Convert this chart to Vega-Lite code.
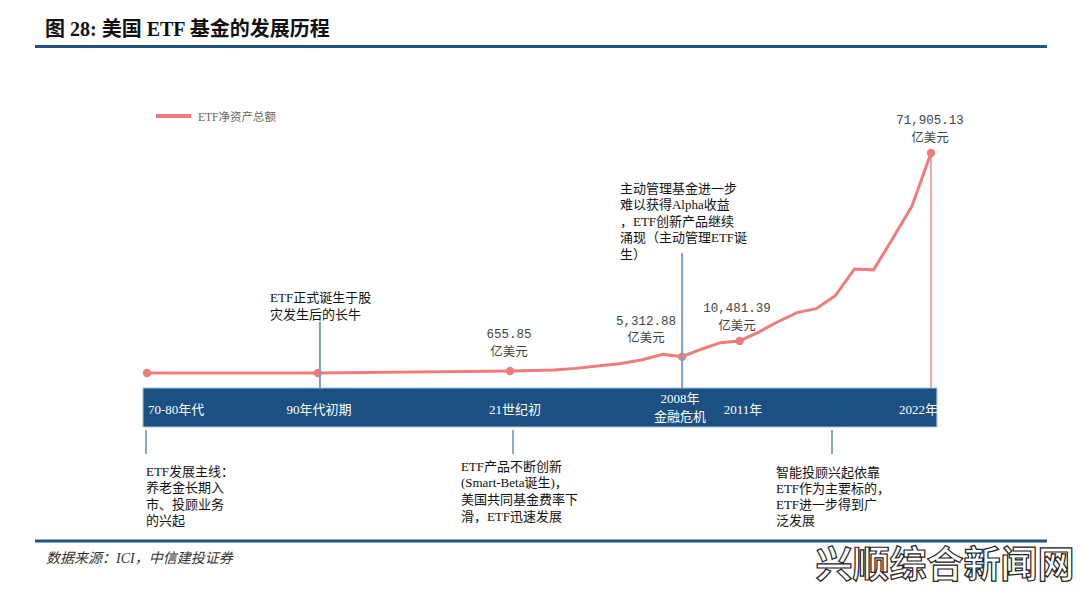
{
  "$schema": "https://vega.github.io/schema/vega-lite/v6.json",
  "width": 1080,
  "height": 596,
  "padding": 0,
  "autosize": {"type": "none"},
  "background": "white",
  "config": {"view": {"stroke": null}, "axis": {"disable": true}},
  "datasets": {
    "aum": [
      {"year": 1975, "value": 0, "key": true},
      {"year": 1993, "value": 0, "key": true},
      {"year": 2000, "value": 655.85, "key": true},
      {"year": 2001, "value": 830, "key": false},
      {"year": 2002, "value": 1020, "key": false},
      {"year": 2003, "value": 1510, "key": false},
      {"year": 2004, "value": 2280, "key": false},
      {"year": 2005, "value": 3010, "key": false},
      {"year": 2006, "value": 4230, "key": false},
      {"year": 2007, "value": 6080, "key": false},
      {"year": 2008, "value": 5312.88, "key": true},
      {"year": 2009, "value": 7770, "key": false},
      {"year": 2010, "value": 9920, "key": false},
      {"year": 2011, "value": 10481.39, "key": true},
      {"year": 2012, "value": 13370, "key": false},
      {"year": 2013, "value": 16750, "key": false},
      {"year": 2014, "value": 19750, "key": false},
      {"year": 2015, "value": 21010, "key": false},
      {"year": 2016, "value": 25240, "key": false},
      {"year": 2017, "value": 34010, "key": false},
      {"year": 2018, "value": 33710, "key": false},
      {"year": 2019, "value": 43960, "key": false},
      {"year": 2020, "value": 54490, "key": false},
      {"year": 2021, "value": 71905.13, "key": true}
    ]
  },
  "layer": [
    {
      "data": {"values": [{"t": "图 28: 美国 ETF 基金的发展历程"}]},
      "mark": {"type": "text", "align": "left", "baseline": "middle", "fontSize": 20, "fontWeight": "bold", "font": "Liberation Serif, Noto Sans CJK SC", "color": "#111111"},
      "encoding": {
        "x": {"datum": 1964.26, "type": "quantitative", "scale": {"domain": [1975, 1993, 2000, 2007, 2021], "range": [147, 318, 510, 663, 931], "nice": false, "zero": false}, "axis": null},
        "y": {"datum": 112092, "type": "quantitative", "scale": {"domain": [-72876.4, 121896.4], "nice": false, "zero": false}, "axis": null},
        "text": {"field": "t"}
      }
    },
    {
      "data": {"values": [{}]},
      "mark": {"type": "rule", "color": "#1f5380", "strokeWidth": 3},
      "encoding": {
        "x": {"datum": 1963.21, "type": "quantitative"},
        "x2": {"datum": 2027.06},
        "y": {"datum": 106700, "type": "quantitative"}
      }
    },
    {
      "data": {"values": [{}]},
      "mark": {"type": "rule", "color": "#ef7b7b", "strokeWidth": 4},
      "encoding": {
        "x": {"datum": 1975.95, "type": "quantitative"},
        "x2": {"datum": 1979.63},
        "y": {"datum": 83988, "type": "quantitative"}
      }
    },
    {
      "data": {"values": [{"t": "ETF净资产总额"}]},
      "mark": {"type": "text", "align": "left", "baseline": "middle", "fontSize": 11.5, "font": "Liberation Serif, Noto Sans CJK SC", "color": "#666666"},
      "encoding": {
        "x": {"datum": 1980.37, "type": "quantitative"},
        "y": {"datum": 83334, "type": "quantitative"},
        "text": {"field": "t"}
      }
    },
    {
      "data": {"values": [{}]},
      "mark": {"type": "rect", "color": "#1a5082", "stroke": "#a9c3db", "strokeWidth": 1},
      "encoding": {
        "x": {"datum": 1974.58, "type": "quantitative"},
        "x2": {"datum": 2021.31},
        "y": {"datum": -4902, "type": "quantitative"},
        "y2": {"datum": -17647}
      }
    },
    {
      "data": {"values": [{}]},
      "mark": {"type": "rule", "color": "#f4a9a9", "strokeWidth": 2},
      "encoding": {
        "x": {"datum": 2021, "type": "quantitative"},
        "y": {"datum": 71905.13, "type": "quantitative"},
        "y2": {"datum": -4902}
      }
    },
    {
      "data": {"name": "aum"},
      "mark": {"type": "line", "color": "#ef7b7b", "strokeWidth": 3},
      "encoding": {
        "x": {"field": "year", "type": "quantitative"},
        "y": {"field": "value", "type": "quantitative"}
      }
    },
    {
      "data": {"name": "aum"},
      "transform": [{"filter": "datum.key"}],
      "mark": {"type": "point", "filled": true, "size": 70, "color": "#ef7b7b", "opacity": 1},
      "encoding": {
        "x": {"field": "year", "type": "quantitative"},
        "y": {"field": "value", "type": "quantitative"}
      }
    },
    {
      "data": {"values": [{}]},
      "mark": {"type": "rule", "color": "#7f9ec0", "strokeWidth": 2},
      "encoding": {
        "x": {"datum": 1993.07, "type": "quantitative"},
        "y": {"datum": 16667, "type": "quantitative"},
        "y2": {"datum": -4902}
      }
    },
    {
      "data": {"values": [{}]},
      "mark": {"type": "rule", "color": "#7f9ec0", "strokeWidth": 2},
      "encoding": {
        "x": {"datum": 2008, "type": "quantitative"},
        "y": {"datum": 39216, "type": "quantitative"},
        "y2": {"datum": -4902}
      }
    },
    {
      "data": {"values": [{"year": 1974.9}, {"year": 2000.14}, {"year": 2015.83}]},
      "mark": {"type": "rule", "color": "#8aa6c2", "strokeWidth": 2},
      "encoding": {
        "x": {"field": "year", "type": "quantitative"},
        "y": {"datum": -18628, "type": "quantitative"},
        "y2": {"datum": -26471}
      }
    },
    {
      "data": {"values": [{"t": "655.85\n亿美元"}]},
      "mark": {"type": "text", "align": "center", "baseline": "top", "fontSize": 12.5, "lineHeight": 18, "lineBreak": "\n", "font": "Liberation Mono, Noto Sans CJK SC", "color": "#444444"},
      "encoding": {
        "x": {"datum": 1999.96, "type": "quantitative"},
        "y": {"datum": 14804, "type": "quantitative"},
        "text": {"field": "t"}
      }
    },
    {
      "data": {"values": [{"t": "5,312.88\n亿美元"}]},
      "mark": {"type": "text", "align": "center", "baseline": "top", "fontSize": 12.5, "lineHeight": 17, "lineBreak": "\n", "font": "Liberation Mono, Noto Sans CJK SC", "color": "#444444"},
      "encoding": {
        "x": {"datum": 2006.22, "type": "quantitative"},
        "y": {"datum": 19052, "type": "quantitative"},
        "text": {"field": "t"}
      }
    },
    {
      "data": {"values": [{"t": "10,481.39\n亿美元"}]},
      "mark": {"type": "text", "align": "center", "baseline": "top", "fontSize": 12.5, "lineHeight": 18, "lineBreak": "\n", "font": "Liberation Mono, Noto Sans CJK SC", "color": "#444444"},
      "encoding": {
        "x": {"datum": 2010.87, "type": "quantitative"},
        "y": {"datum": 23301, "type": "quantitative"},
        "text": {"field": "t"}
      }
    },
    {
      "data": {"values": [{"t": "71,905.13\n亿美元"}]},
      "mark": {"type": "text", "align": "center", "baseline": "top", "fontSize": 12.5, "lineHeight": 18, "lineBreak": "\n", "font": "Liberation Mono, Noto Sans CJK SC", "color": "#444444"},
      "encoding": {
        "x": {"datum": 2020.95, "type": "quantitative"},
        "y": {"datum": 84739, "type": "quantitative"},
        "text": {"field": "t"}
      }
    },
    {
      "data": {"values": [{"t": "ETF正式诞生于股\n灾发生后的长牛"}]},
      "mark": {"type": "text", "align": "left", "baseline": "top", "fontSize": 13, "lineHeight": 17, "lineBreak": "\n", "font": "Liberation Serif, Noto Sans CJK SC", "color": "#111111"},
      "encoding": {
        "x": {"datum": 1987.95, "type": "quantitative"},
        "y": {"datum": 26569, "type": "quantitative"},
        "text": {"field": "t"}
      }
    },
    {
      "data": {"values": [{"t": "主动管理基金进一步\n难以获得Alpha收益\n，ETF创新产品继续\n涌现（主动管理ETF诞\n生）"}]},
      "mark": {"type": "text", "align": "left", "baseline": "top", "fontSize": 13, "lineHeight": 16.5, "lineBreak": "\n", "font": "Liberation Serif, Noto Sans CJK SC", "color": "#111111"},
      "encoding": {
        "x": {"datum": 2005.03, "type": "quantitative"},
        "y": {"datum": 62190, "type": "quantitative"},
        "text": {"field": "t"}
      }
    },
    {
      "data": {"values": [{"t": "70-80年代"}]},
      "mark": {"type": "text", "align": "left", "baseline": "middle", "fontSize": 13, "font": "Liberation Serif, Noto Sans CJK SC", "color": "white"},
      "encoding": {
        "x": {"datum": 1975.1, "type": "quantitative"},
        "y": {"datum": -12092, "type": "quantitative"},
        "text": {"field": "t"}
      }
    },
    {
      "data": {"values": [{"t": "90年代初期", "year": 1993.04}, {"t": "21世纪初", "year": 2000.23}, {"t": "2011年", "year": 2011.18}]},
      "mark": {"type": "text", "align": "center", "baseline": "middle", "fontSize": 13, "font": "Liberation Serif, Noto Sans CJK SC", "color": "white"},
      "encoding": {
        "x": {"field": "year", "type": "quantitative"},
        "y": {"datum": -12092, "type": "quantitative"},
        "text": {"field": "t"}
      }
    },
    {
      "data": {"values": [{"t": "2008年\n金融危机"}]},
      "mark": {"type": "text", "align": "center", "baseline": "top", "fontSize": 13, "lineHeight": 18, "lineBreak": "\n", "font": "Liberation Serif, Noto Sans CJK SC", "color": "white"},
      "encoding": {
        "x": {"datum": 2007.89, "type": "quantitative"},
        "y": {"datum": -6438, "type": "quantitative"},
        "text": {"field": "t"}
      }
    },
    {
      "data": {"values": [{"t": "2022年"}]},
      "mark": {"type": "text", "align": "right", "baseline": "middle", "fontSize": 13, "font": "Liberation Serif, Noto Sans CJK SC", "color": "white"},
      "encoding": {
        "x": {"datum": 2021.37, "type": "quantitative"},
        "y": {"datum": -12092, "type": "quantitative"},
        "text": {"field": "t"}
      }
    },
    {
      "data": {"values": [{"t": "ETF发展主线：\n养老金长期入\n市、投顾业务\n的兴起"}]},
      "mark": {"type": "text", "align": "left", "baseline": "top", "fontSize": 13, "lineHeight": 16.5, "lineBreak": "\n", "font": "Liberation Serif, Noto Sans CJK SC", "color": "#111111"},
      "encoding": {
        "x": {"datum": 1974.89, "type": "quantitative"},
        "y": {"datum": -30294, "type": "quantitative"},
        "text": {"field": "t"}
      }
    },
    {
      "data": {"values": [{"t": "ETF产品不断创新\n(Smart-Beta诞生)，\n美国共同基金费率下\n滑，ETF迅速发展"}]},
      "mark": {"type": "text", "align": "left", "baseline": "top", "fontSize": 13, "lineHeight": 16.7, "lineBreak": "\n", "font": "Liberation Serif, Noto Sans CJK SC", "color": "#111111"},
      "encoding": {
        "x": {"datum": 1998.21, "type": "quantitative"},
        "y": {"datum": -28660, "type": "quantitative"},
        "text": {"field": "t"}
      }
    },
    {
      "data": {"values": [{"t": "智能投顾兴起依靠\nETF作为主要标的，\nETF进一步得到广\n泛发展"}]},
      "mark": {"type": "text", "align": "left", "baseline": "top", "fontSize": 13, "lineHeight": 16, "lineBreak": "\n", "font": "Liberation Serif, Noto Sans CJK SC", "color": "#111111"},
      "encoding": {
        "x": {"datum": 2012.9, "type": "quantitative"},
        "y": {"datum": -30621, "type": "quantitative"},
        "text": {"field": "t"}
      }
    },
    {
      "data": {"values": [{}]},
      "mark": {"type": "rule", "color": "#1f5380", "strokeWidth": 3},
      "encoding": {
        "x": {"datum": 1963.21, "type": "quantitative"},
        "x2": {"datum": 2027.06},
        "y": {"datum": -54902, "type": "quantitative"}
      }
    },
    {
      "data": {"values": [{"t": "数据来源：ICI，中信建投证券"}]},
      "mark": {"type": "text", "align": "left", "baseline": "middle", "fontSize": 14, "fontStyle": "italic", "font": "Liberation Serif, Noto Sans CJK SC", "color": "#333333"},
      "encoding": {
        "x": {"datum": 1964.37, "type": "quantitative"},
        "y": {"datum": -60785, "type": "quantitative"},
        "text": {"field": "t"}
      }
    },
    {
      "data": {"values": [{"t": "兴顺综合新闻网"}]},
      "mark": {"type": "text", "align": "center", "baseline": "middle", "fontSize": 37, "fontWeight": "bold", "font": "Noto Sans CJK SC", "fill": "white", "stroke": "#222222", "strokeWidth": 1.2},
      "encoding": {
        "x": {"datum": 2021.73, "type": "quantitative"},
        "y": {"datum": -63399, "type": "quantitative"},
        "text": {"field": "t"}
      }
    }
  ]
}
